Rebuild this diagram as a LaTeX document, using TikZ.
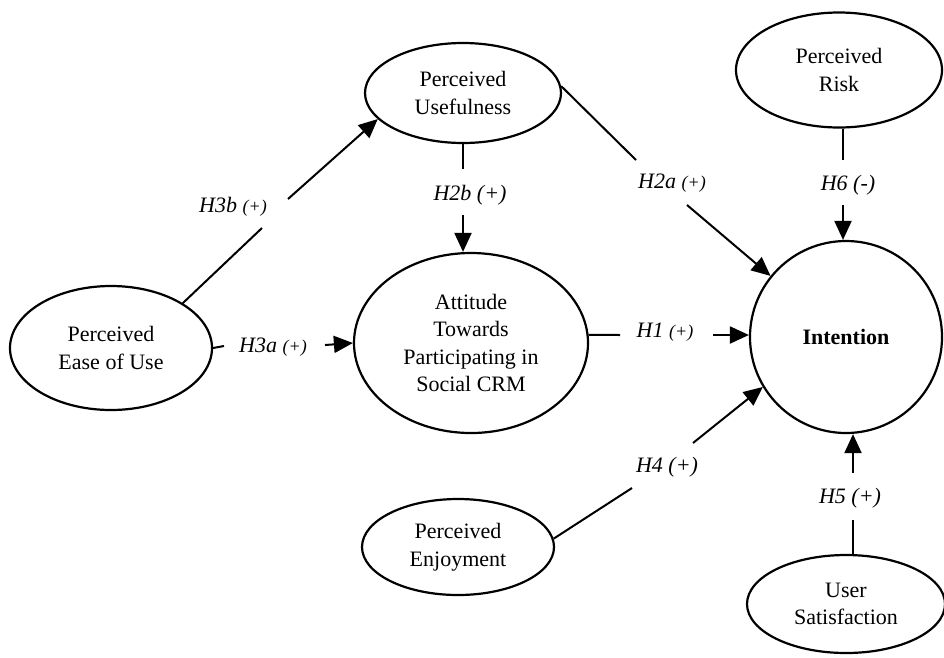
\documentclass[tikz,border=0pt]{standalone}
\usepackage{fontspec}
\setmainfont{Liberation Serif}
\usetikzlibrary{shapes.geometric,arrows.meta}
\begin{document}
\begin{tikzpicture}[x=1pt,y=-1pt,
  lat/.style={ellipse,draw,line width=2.2pt,inner sep=0pt,align=center,
    font=\fontsize{22}{27.5}\selectfont},
  conn/.style={line width=2pt},
  arr/.style={conn,-{Triangle[length=19pt,width=17pt]}},
  hyp/.style={font=\fontsize{22}{25}\selectfont\itshape,inner sep=0pt}]
\useasboundingbox (0,0) rectangle (944,657);
\newcommand{\sm}[1]{{\fontsize{18}{20}\selectfont #1}}
% constructs
\node[lat,minimum width=202pt,minimum height=124pt] (peou) at (111,348) {Perceived\\Ease of Use};
\node[lat,minimum width=196pt,minimum height=100pt] (pu) at (463,93) {Perceived\\Usefulness};
\node[lat,minimum width=206pt,minimum height=115pt] (pr) at (839,70) {Perceived\\Risk};
\node[lat,minimum width=234pt,minimum height=180pt] (att) at (471,343) {Attitude\\Towards\\Participating in\\Social CRM};
\node[circle,draw,line width=2.2pt,minimum size=192pt,inner sep=0pt,
  font=\fontsize{22}{25}\selectfont\bfseries] (int) at (846,337) {Intention};
\node[lat,minimum width=192pt,minimum height=96pt] (pe) at (458,547) {Perceived\\Enjoyment};
\node[lat,minimum width=198pt,minimum height=98pt] (us) at (846,604) {User\\Satisfaction};
% labels
\node[hyp] (l3b) at (233,207) {H3b \sm{(+)}};
\node[hyp] (l3a) at (273,347) {H3a \sm{(+)}};
\node[hyp] (l2b) at (470,195) {H2b (+)};
\node[hyp] (l2a) at (672,183) {H2a \sm{(+)}};
\node[hyp] (l1) at (665,332) {H1 \sm{(+)}};
\node[hyp] (l6) at (848,185) {H6 (-)};
\node[hyp] (l4) at (667,467) {H4 (+)};
\node[hyp] (l5) at (850,498) {H5 (+)};
% gap ends
\coordinate (g3b1) at (262,228); \coordinate (g3b2) at (288,199);
\coordinate (g3a1) at (224,346); \coordinate (g3a2) at (325,345);
\coordinate (g2b1) at (463,169); \coordinate (g2b2) at (463,215);
\coordinate (g2a1) at (636,160); \coordinate (g2a2) at (687,205);
\coordinate (g11) at (620,335); \coordinate (g12) at (713,335);
\coordinate (g61) at (843,160); \coordinate (g62) at (843,205);
\coordinate (g41) at (632,488); \coordinate (g42) at (693,443);
\coordinate (g51) at (853,520); \coordinate (g52) at (853,473);
% connectors
\draw[conn] (peou.32) -- (g3b1);
\draw[arr] (g3b2) -- (pu.197);
\draw[conn] (peou.east) -- (g3a1);
\draw[arr] (g3a2) -- (att.west);
\draw[conn] (pu.south) -- (g2b1);
\draw[arr] (g2b2) -- (g2b2 |- att.north);
\draw[conn] (pu.4) -- (g2a1);
\draw[arr] (g2a2) -- (int.141);
\draw[conn] (att.4) -- (g11);
\draw[arr] (g12) -- (g12 -| int.west);
\draw[conn] (g61 |- pr.south) -- (g61);
\draw[arr] (g62) -- (g62 |- int.north);
\draw[conn] (pe.5) -- (g41);
\draw[arr] (g42) -- (int.211);
\draw[conn] (g51 |- us.north) -- (g51);
\draw[arr] (g52) -- (g52 |- int.south);
\end{tikzpicture}
\end{document}
